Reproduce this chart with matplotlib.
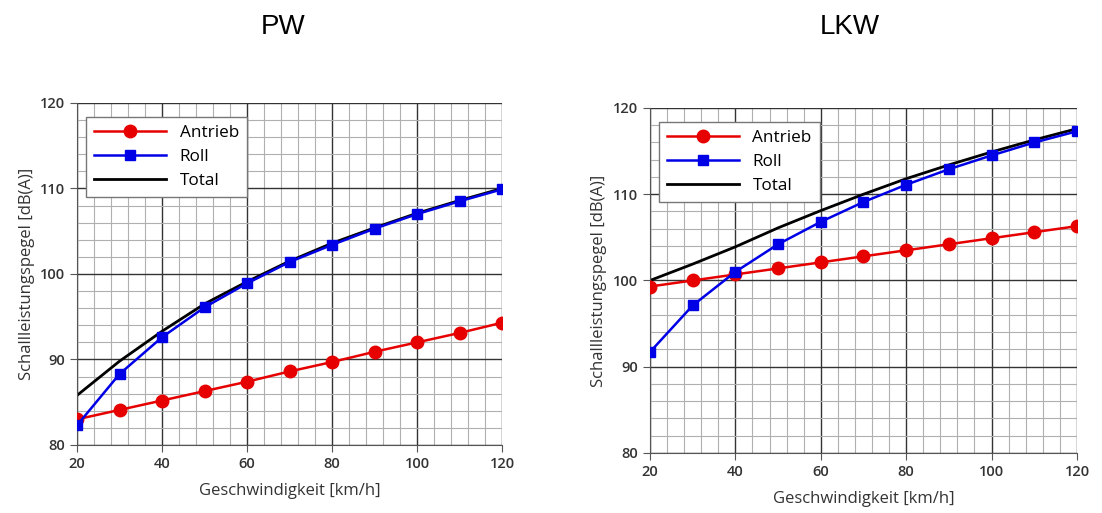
import matplotlib
matplotlib.use("Agg")
import matplotlib.pyplot as plt
from matplotlib.ticker import MultipleLocator

plt.rcParams['font.family'] = ['Open Sans', 'DejaVu Sans']

speed = [20, 30, 40, 50, 60, 70, 80, 90, 100, 110, 120]

# PW
pw_antrieb = [83.0, 84.1, 85.2, 86.3, 87.4, 88.6, 89.7, 90.9, 92.0, 93.1, 94.3]
pw_roll = [82.3, 88.3, 92.6, 96.1, 98.9, 101.4, 103.4, 105.3, 107.0, 108.5, 109.9]
pw_total = [85.8, 89.8, 93.3, 96.5, 99.1, 101.5, 103.6, 105.4, 107.1, 108.6, 110.0]

# LKW
lkw_antrieb = [99.3, 100.0, 100.7, 101.4, 102.1, 102.8, 103.5, 104.2, 104.9, 105.6, 106.3]
lkw_roll = [91.7, 97.1, 101.0, 104.2, 106.8, 109.1, 111.1, 112.9, 114.5, 116.0, 117.3]
lkw_total = [100.0, 101.9, 103.9, 106.1, 108.1, 110.0, 111.8, 113.4, 114.9, 116.3, 117.6]

fig = plt.figure(figsize=(11.02, 5.13), dpi=100)
ax1 = fig.add_axes([0.0699, 0.1326, 0.3857, 0.6667])
ax2 = fig.add_axes([0.5898, 0.117, 0.3875, 0.6725])


def draw(ax, antrieb, roll, total):
    ax.plot(speed, antrieb, color='#e60000', lw=1.8, marker='o', ms=9, label='Antrieb', zorder=3)
    ax.plot(speed, roll, color='#0000e6', lw=1.8, marker='s', ms=7.5, label='Roll', zorder=4)
    ax.plot(speed, total, color='black', lw=2, label='Total', zorder=2)
    ax.set_xlim(20, 120)
    ax.set_ylim(80, 120)
    ax.xaxis.set_major_locator(MultipleLocator(20))
    ax.xaxis.set_minor_locator(MultipleLocator(4))
    ax.yaxis.set_major_locator(MultipleLocator(10))
    ax.yaxis.set_minor_locator(MultipleLocator(2))
    ax.grid(which='major', color='#333333', lw=1.0)
    ax.grid(which='minor', color='#b0b0b0', lw=0.8)
    for s in ['top', 'right']:
        ax.spines[s].set_visible(False)
    for s in ['left', 'bottom']:
        ax.spines[s].set_color('#555555')
    ax.tick_params(which='major', length=5, color='#555555', labelsize=10.5, labelcolor='#333333')
    ax.tick_params(which='minor', length=0)
    for lab in ax.get_xticklabels() + ax.get_yticklabels():
        lab.set_fontweight('semibold')
    ax.set_xlabel('Geschwindigkeit [km/h]', fontsize=12, color='#333333', labelpad=9)
    ax.set_ylabel('Schallleistungspegel [dB(A)]', fontsize=12, color='#333333')
    leg = ax.legend(loc='upper left', fontsize=12.3, fancybox=False, framealpha=1,
                    edgecolor='#777777', handlelength=4.2, borderpad=0.5,
                    labelspacing=0.45, handletextpad=0.8,
                    bbox_to_anchor=(0.0, 0.985))
    leg.get_frame().set_linewidth(1.0)


draw(ax1, pw_antrieb, pw_roll, pw_total)
draw(ax2, lkw_antrieb, lkw_roll, lkw_total)

fig.text(0.257, 0.947, 'PW', ha='center', va='center', fontsize=20,
         family=['Liberation Sans', 'DejaVu Sans'])
fig.text(0.771, 0.947, 'LKW', ha='center', va='center', fontsize=20,
         family=['Liberation Sans', 'DejaVu Sans'])

fig.savefig('out.png', dpi=100)
